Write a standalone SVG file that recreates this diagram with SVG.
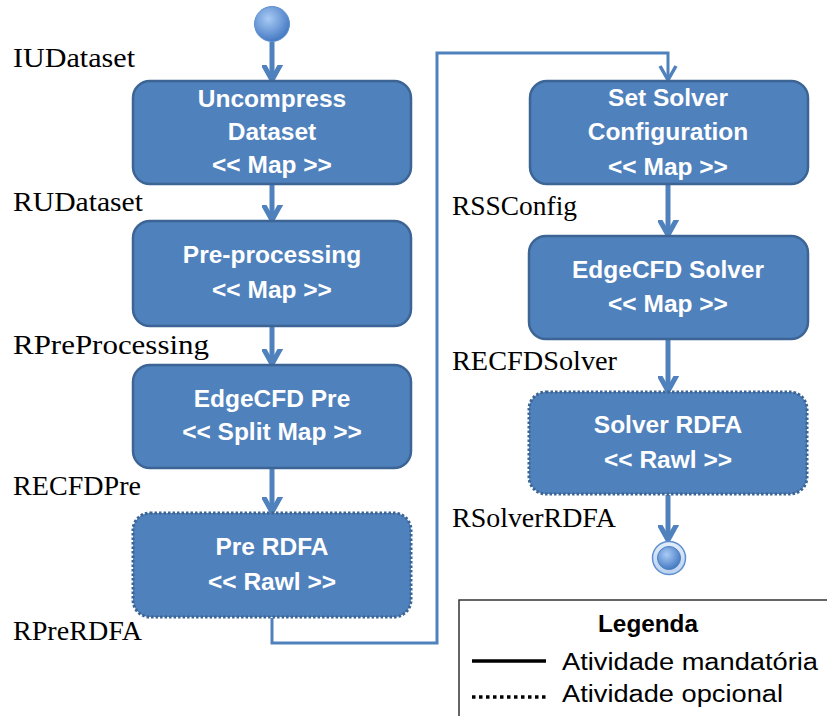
<svg xmlns="http://www.w3.org/2000/svg" width="827" height="716" viewBox="0 0 827 716">
<defs>
<style>
.node{fill:#4f81bd;stroke:#3c6595;stroke-width:2.5}
.opt{fill:#4f81bd;stroke:#3c6595;stroke-width:3;stroke-dasharray:2.5 2}
.nt{font-family:"Liberation Sans",Arial,sans-serif;font-weight:bold;font-size:24.5px;fill:#ffffff;text-anchor:middle}
.lbl{font-family:"Liberation Serif","Times New Roman",serif;font-size:27px;fill:#000000}
.conn{fill:none;stroke:#4f81bd;stroke-width:5}
.thin{fill:none;stroke:#4f81bd;stroke-width:3}
.leg{font-family:"Liberation Sans",Arial,sans-serif;font-size:23px;fill:#000000}
</style>
<marker id="ah" markerUnits="userSpaceOnUse" markerWidth="30" markerHeight="30" viewBox="-15 -20 30 30" refX="0" refY="0" orient="auto-start-reverse">
<path d="M-18,-10 L0,0 L-18,10" fill="none" stroke="#4f81bd" stroke-width="5" stroke-linejoin="round"/>
</marker>
<marker id="ahs" markerUnits="userSpaceOnUse" markerWidth="30" markerHeight="30" viewBox="-15 -15 30 30" refX="0" refY="0" orient="auto">
<path d="M-14,-8 L0,0 L-14,8" fill="none" stroke="#4f81bd" stroke-width="3.5" stroke-linejoin="round"/>
</marker>
<radialGradient id="gStart" cx="40%" cy="35%" r="70%">
<stop offset="0" stop-color="#a9cbf5"/>
<stop offset="1" stop-color="#3f74c0"/>
</radialGradient>
<radialGradient id="gEnd" cx="40%" cy="35%" r="70%">
<stop offset="0" stop-color="#a9cbf5"/>
<stop offset="1" stop-color="#3f74c0"/>
</radialGradient>
<linearGradient id="gRing" x1="0" y1="0" x2="0" y2="1">
<stop offset="0" stop-color="#e3eefb"/>
<stop offset="1" stop-color="#b9d1ef"/>
</linearGradient>
</defs>

<g id="connectors">
<line class="conn" x1="272" y1="42" x2="272" y2="80" marker-end="url(#ah)"/>
<line class="conn" x1="272" y1="185" x2="272" y2="220" marker-end="url(#ah)"/>
<line class="conn" x1="272" y1="327" x2="272" y2="364" marker-end="url(#ah)"/>
<line class="conn" x1="272" y1="469" x2="272" y2="512" marker-end="url(#ah)"/>
<path class="thin" d="M272,618 V643 H437 V53 H668 V80" marker-end="url(#ahs)"/>
<line class="conn" x1="668" y1="185" x2="668" y2="235" marker-end="url(#ah)"/>
<line class="conn" x1="668" y1="340" x2="668" y2="391" marker-end="url(#ah)"/>
<line class="conn" x1="668" y1="495" x2="668" y2="540" marker-end="url(#ah)"/>
</g>

<g id="start">
<circle cx="272" cy="24" r="17.5" fill="url(#gStart)" stroke="#5f8fd0" stroke-width="1"/>
</g>

<g id="end">
<circle cx="669" cy="558" r="16.5" fill="url(#gRing)" stroke="#5f8fd0" stroke-width="1.5"/>
<circle cx="669" cy="558" r="11.5" fill="url(#gEnd)" stroke="#4f81bd" stroke-width="1"/>
</g>

<g id="n-uncompress">
<rect class="node" x="133" y="81" width="278" height="103" rx="17"/>
<text class="nt" x="272" y="107">Uncompress</text>
<text class="nt" x="272" y="140">Dataset</text>
<text class="nt" x="272" y="173">&lt;&lt; Map &gt;&gt;</text>
</g>

<g id="n-preprocessing">
<rect class="node" x="133" y="221" width="278" height="105" rx="17"/>
<text class="nt" x="272" y="263">Pre-processing</text>
<text class="nt" x="272" y="298">&lt;&lt; Map &gt;&gt;</text>
</g>

<g id="n-edgecfdpre">
<rect class="node" x="133" y="365" width="278" height="103" rx="17"/>
<text class="nt" x="272" y="407">EdgeCFD Pre</text>
<text class="nt" x="272" y="440">&lt;&lt; Split Map &gt;&gt;</text>
</g>

<g id="n-prerdfa">
<rect class="opt" x="133" y="513" width="278" height="104" rx="17"/>
<text class="nt" x="272" y="555">Pre RDFA</text>
<text class="nt" x="272" y="590">&lt;&lt; Rawl &gt;&gt;</text>
</g>

<g id="n-setsolver">
<rect class="node" x="530" y="81" width="278" height="103" rx="17"/>
<text class="nt" x="668" y="106">Set Solver</text>
<text class="nt" x="668" y="140">Configuration</text>
<text class="nt" x="668" y="175">&lt;&lt; Map &gt;&gt;</text>
</g>

<g id="n-edgecfdsolver">
<rect class="node" x="529" y="236" width="279" height="103" rx="17"/>
<text class="nt" x="668" y="278">EdgeCFD Solver</text>
<text class="nt" x="668" y="312">&lt;&lt; Map &gt;&gt;</text>
</g>

<g id="n-solverrdfa">
<rect class="opt" x="529" y="392" width="278" height="102" rx="17"/>
<text class="nt" x="668" y="433">Solver RDFA</text>
<text class="nt" x="668" y="468">&lt;&lt; Rawl &gt;&gt;</text>
</g>

<g id="labels">
<text class="lbl" x="13" y="67" textLength="122" lengthAdjust="spacingAndGlyphs">IUDataset</text>
<text class="lbl" x="13" y="211" textLength="130" lengthAdjust="spacingAndGlyphs">RUDataset</text>
<text class="lbl" x="13" y="354" textLength="196" lengthAdjust="spacingAndGlyphs">RPreProcessing</text>
<text class="lbl" x="13" y="495" textLength="128" lengthAdjust="spacingAndGlyphs">RECFDPre</text>
<text class="lbl" x="13" y="640" textLength="129" lengthAdjust="spacingAndGlyphs">RPreRDFA</text>
<text class="lbl" x="452" y="215" textLength="125" lengthAdjust="spacingAndGlyphs">RSSConfig</text>
<text class="lbl" x="452" y="370" textLength="165" lengthAdjust="spacingAndGlyphs">RECFDSolver</text>
<text class="lbl" x="452" y="527" textLength="164" lengthAdjust="spacingAndGlyphs">RSolverRDFA</text>
</g>

<g id="legend">
<rect x="459" y="600" width="380" height="130" fill="#ffffff" stroke="#333333" stroke-width="1.5"/>
<text class="leg" x="648" y="632" text-anchor="middle" font-weight="bold" textLength="100" lengthAdjust="spacingAndGlyphs">Legenda</text>
<line x1="472" y1="661" x2="546" y2="661" stroke="#000000" stroke-width="3.5"/>
<text class="leg" x="562" y="670" textLength="256" lengthAdjust="spacingAndGlyphs">Atividade mandatória</text>
<line x1="472" y1="697" x2="546" y2="697" stroke="#000000" stroke-width="3.5" stroke-dasharray="3.5 3.5"/>
<text class="leg" x="562" y="702" textLength="221" lengthAdjust="spacingAndGlyphs">Atividade opcional</text>
</g>
</svg>
